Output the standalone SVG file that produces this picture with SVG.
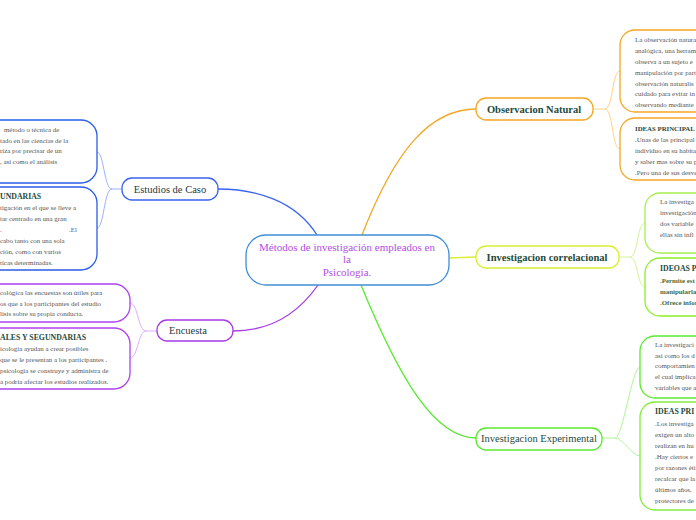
<svg xmlns="http://www.w3.org/2000/svg" width="696" height="520" viewBox="0 0 696 520">
<style>
.body{font-family:"Liberation Serif","Times New Roman",serif;font-size:6.9px;fill:#555}
.ttl{font-family:"Liberation Serif","Times New Roman",serif;font-size:7.8px;font-weight:bold;fill:#1e4a3c}
.lbl{font-family:"Liberation Serif","Times New Roman",serif;font-size:10.5px;fill:#1e3a46}
.lblb{font-family:"Liberation Serif","Times New Roman",serif;font-size:10.5px;font-weight:bold;fill:#1e4a3c}
.box{fill:#fff;stroke-width:1.3}
.con{fill:none;stroke-width:1.3}
.sub{fill:none;stroke-width:0.9}
</style>
<rect width="696" height="520" fill="#fff"/>
<g id="connectors">
<path class="con" stroke="#3a63f0" d="M317,235 C295,200 255,189 218,189"/>
<path class="con" stroke="#f5a623" d="M362,235 C395,150 430,109 476,109"/>
<path class="con" stroke="#a63ae6" d="M318,285 C295,318 265,331 233,331"/>
<path class="con" stroke="#58ea2e" d="M361,285 C400,380 435,438 476,438"/>
<path class="con" stroke="#d8f030" d="M449,258 L476,257"/>
<path class="sub" stroke="#8ea8ff" d="M122,189 L112,189 C104,189 104,152 97,152 M112,189 C104,189 104,228 97,228"/>
<path class="sub" stroke="#d8a0f5" d="M157,331 L146,331 C138,331 138,303 130,303 M146,331 C138,331 138,358 130,358"/>
<path class="sub" stroke="#ffcc77" d="M593,109 L605,109 C613,109 612,71 620,71 M605,109 C613,109 612,149 620,149"/>
<path class="sub" stroke="#cdf08a" d="M619,257 L630,257 C638,257 637,223 645,223 M630,257 C638,257 637,287 645,287"/>
<path class="sub" stroke="#aaf08a" d="M602,438 L615,438 C623,438 632,367 640,367 M615,438 C623,438 632,456 640,456"/>
</g>
<g id="center">
<rect class="box" x="246" y="235" width="203" height="50" rx="20" stroke="#3d8ed6"/>
<text x="347" y="251" text-anchor="middle" style="font-family:'Liberation Serif','Times New Roman',serif;font-size:11px;fill:#b34ee6">Métodos de investigación empleados en</text>
<text x="347" y="263" text-anchor="middle" style="font-family:'Liberation Serif','Times New Roman',serif;font-size:11px;fill:#b34ee6">la</text>
<text x="347" y="276" text-anchor="middle" style="font-family:'Liberation Serif','Times New Roman',serif;font-size:11px;fill:#b34ee6">Psicología.</text>
</g>
<g id="estudios">
<rect class="box" x="122" y="178" width="96" height="22" rx="10" stroke="#3a63f0"/>
<text class="lbl" x="170" y="193" text-anchor="middle">Estudios de Caso</text>
</g>
<g id="estudios-1">
<rect class="box" x="-30" y="120" width="127" height="63" rx="16" stroke="#2a5ce8"/>
<text class="body" x="4" y="132">método o técnica de</text>
<text class="body" x="0" y="143">tado en las ciencias de la</text>
<text class="body" x="0" y="153">riza por precisar de un</text>
<text class="body" x="0" y="164">, así como el análisis</text>
</g>
<g id="estudios-2">
<rect class="box" x="-30" y="187" width="127" height="83" rx="16" stroke="#2a5ce8"/>
<text class="ttl" x="0" y="199">UNDARIAS</text>
<text class="body" x="0" y="210">tigación en el que se lleve a</text>
<text class="body" x="0" y="221">tar centrado en una gran</text>
<text class="body" x="0" y="232">.</text>
<text class="body" x="69" y="232">.El</text>
<text class="body" x="0" y="243">cabo tanto con una sola</text>
<text class="body" x="0" y="254">ción, como con varios</text>
<text class="body" x="0" y="265">ticas determinadas.</text>
</g>
<g id="encuesta">
<rect class="box" x="157" y="320" width="76" height="21" rx="10" stroke="#a63ae6"/>
<text class="lbl" x="188" y="334" text-anchor="middle">Encuesta</text>
</g>
<g id="encuesta-1">
<rect class="box" x="-30" y="284" width="160" height="38" rx="16" stroke="#b040f0"/>
<text class="body" x="0" y="295">cológica las encuestas son útiles para</text>
<text class="body" x="0" y="306">os que a los participantes del estudio</text>
<text class="body" x="0" y="316">lisis sobre su propia conducta.</text>
</g>
<g id="encuesta-2">
<rect class="box" x="-30" y="328" width="160" height="61" rx="16" stroke="#b040f0"/>
<text class="ttl" x="0" y="340">ALES Y SEGUNDARIAS</text>
<text class="body" x="0" y="351">icología ayudan a crear posibles</text>
<text class="body" x="0" y="362"> que se le presentan a los participantes .</text>
<text class="body" x="0" y="373">psicología se construye y administra de</text>
<text class="body" x="0" y="384">a podría afectar los estudios realizados.</text>
</g>
<g id="observacion">
<rect class="box" x="476" y="98" width="117" height="22" rx="10" stroke="#f5a623"/>
<text class="lblb" x="534" y="113" text-anchor="middle">Observacion Natural</text>
</g>
<g id="observacion-1">
<rect class="box" x="620" y="30" width="110" height="82" rx="15" stroke="#f5a623"/>
<text class="body" x="635" y="42">La observación natura</text>
<text class="body" x="635" y="53">analógica, una herram</text>
<text class="body" x="635" y="64">observa a un sujeto e</text>
<text class="body" x="635" y="75">manipulación por part</text>
<text class="body" x="635" y="86">observación naturalis</text>
<text class="body" x="635" y="96">cuidado para evitar in</text>
<text class="body" x="635" y="107">observando mediante</text>
</g>
<g id="observacion-2">
<rect class="box" x="620" y="118" width="110" height="62" rx="15" stroke="#f5a623"/>
<text class="ttl" x="635" y="131" style="font-size:6.8px">IDEAS PRINCIPAL</text>
<text class="body" x="635" y="142">.Unas de las principal</text>
<text class="body" x="635" y="153">individuo en su habita</text>
<text class="body" x="635" y="164">y saber mas sobre su p</text>
<text class="body" x="635" y="175">.Pero una de sus desve</text>
</g>
<g id="correlacional">
<rect class="box" x="476" y="246" width="143" height="22" rx="10" stroke="#d8f030"/>
<text class="lblb" x="547" y="261" text-anchor="middle">Investigacion correlacional</text>
</g>
<g id="correlacional-1">
<rect class="box" x="645" y="193" width="90" height="60" rx="15" stroke="#a6ee50"/>
<text class="body" x="660" y="204">La investiga</text>
<text class="body" x="660" y="215">investigación</text>
<text class="body" x="660" y="226">dos variable</text>
<text class="body" x="660" y="237">ellas sin infl</text>
</g>
<g id="correlacional-2">
<rect class="box" x="645" y="258" width="90" height="58" rx="15" stroke="#8cee2a"/>
<text class="ttl" x="660" y="271">IDEOAS P</text>
<text class="body" x="660" y="283" style="font-weight:bold;fill:#4a6a3a">.Permite est</text>
<text class="body" x="660" y="294" style="font-weight:bold;fill:#4a6a3a">manipularlas</text>
<text class="body" x="660" y="305" style="font-weight:bold;fill:#4a6a3a">.Ofrece infor</text>
</g>
<g id="experimental">
<rect class="box" x="476" y="428" width="126" height="22" rx="10" stroke="#58ea2e"/>
<text class="lbl" x="539" y="442" text-anchor="middle" style="fill:#1e4a3c">Investigacion Experimental</text>
</g>
<g id="experimental-1">
<rect class="box" x="640" y="336" width="95" height="62" rx="15" stroke="#58ea2e"/>
<text class="body" x="655" y="347">La investigaci</text>
<text class="body" x="655" y="358">así como los d</text>
<text class="body" x="655" y="368">comportamien</text>
<text class="body" x="655" y="379">el cual implica</text>
<text class="body" x="655" y="390">variables que a</text>
</g>
<g id="experimental-2">
<rect class="box" x="640" y="402" width="95" height="108" rx="15" stroke="#80ee3a"/>
<text class="ttl" x="655" y="414">IDEAS PRI</text>
<text class="body" x="655" y="426">.Los investiga</text>
<text class="body" x="655" y="437">exigen un alto</text>
<text class="body" x="655" y="448">realizan en hu</text>
<text class="body" x="655" y="459">.Hay ciertos e</text>
<text class="body" x="655" y="470">por razones éti</text>
<text class="body" x="655" y="481">recalcar que la</text>
<text class="body" x="655" y="492">últimos años, </text>
<text class="body" x="655" y="503">protectores de</text>
</g>
</svg>
